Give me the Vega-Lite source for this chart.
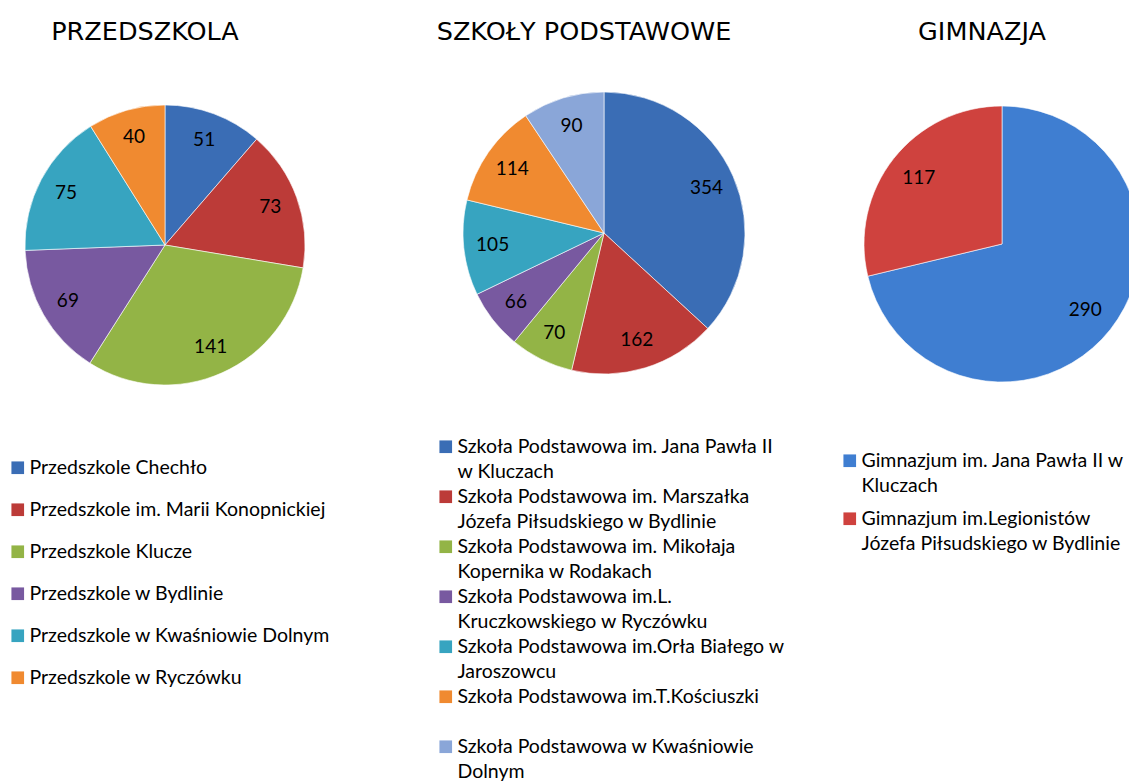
{
  "$schema": "https://vega.github.io/schema/vega-lite/v6.json",
  "padding": {"top": 19, "left": 0, "right": 0, "bottom": 0},
  "background": "white",
  "spacing": 0,
  "bounds": "flush",
  "config": {
    "view": {"stroke": null},
    "title": {"font": "DejaVu Sans", "fontSize": 25.5, "fontWeight": "normal", "color": "#000000", "anchor": "middle", "dx": -20, "offset": 1},
    "legend": {"orient": "none", "direction": "vertical", "symbolType": "square", "symbolSize": 160, "symbolStrokeWidth": 0, "labelFont": "Lato", "labelFontSize": 19.5, "labelColor": "#000000", "labelLimit": 0, "padding": 0, "labelOffset": 2},
    "style": {"guide-label": {"lineHeight": 25.5}}
  },
  "datasets": {
    "przedszkola": [
      {"i": 1, "name": "Przedszkole Chechło", "value": 51},
      {"i": 2, "name": "Przedszkole im. Marii Konopnickiej", "value": 73},
      {"i": 3, "name": "Przedszkole Klucze", "value": 141},
      {"i": 4, "name": "Przedszkole w Bydlinie", "value": 69},
      {"i": 5, "name": "Przedszkole w Kwaśniowie Dolnym", "value": 75},
      {"i": 6, "name": "Przedszkole w Ryczówku", "value": 40}
    ],
    "szkoly": [
      {"i": 1, "name": "Szkoła Podstawowa im. Jana Pawła II w Kluczach", "value": 354},
      {"i": 2, "name": "Szkoła Podstawowa im. Marszałka Józefa Piłsudskiego w Bydlinie", "value": 162},
      {"i": 3, "name": "Szkoła Podstawowa im. Mikołaja Kopernika w Rodakach", "value": 70},
      {"i": 4, "name": "Szkoła Podstawowa im.L. Kruczkowskiego w Ryczówku", "value": 66},
      {"i": 5, "name": "Szkoła Podstawowa im.Orła Białego w Jaroszowcu", "value": 105},
      {"i": 6, "name": "Szkoła Podstawowa im.T.Kościuszki", "value": 114},
      {"i": 7, "name": "Szkoła Podstawowa w Kwaśniowie Dolnym", "value": 90}
    ],
    "gimnazja": [
      {"i": 1, "name": "Gimnazjum im. Jana Pawła II w Kluczach", "value": 290},
      {"i": 2, "name": "Gimnazjum im.Legionistów Józefa Piłsudskiego w Bydlinie", "value": 117}
    ]
  },
  "hconcat": [
    {
      "title": {"text": "PRZEDSZKOLA"},
      "width": 330,
      "height": 398,
      "data": {"name": "przedszkola"},
      "encoding": {
        "theta": {"field": "value", "type": "quantitative", "stack": true},
        "order": {"field": "i", "type": "quantitative"},
        "color": {
          "field": "name", "type": "nominal",
          "scale": {"domain": ["Przedszkole Chechło", "Przedszkole im. Marii Konopnickiej", "Przedszkole Klucze", "Przedszkole w Bydlinie", "Przedszkole w Kwaśniowie Dolnym", "Przedszkole w Ryczówku"],
                    "range": ["#3A6DB5", "#BC3B38", "#93B446", "#7859A0", "#37A4C0", "#F08A30"]},
          "legend": {"title": null, "legendX": 8, "legendY": 412, "rowPadding": 21}
        }
      },
      "layer": [
        {"mark": {"type": "arc", "outerRadius": 140, "stroke": "#ffffff", "strokeOpacity": 0.6, "strokeWidth": 1}},
        {"mark": {"type": "text", "radius": 112, "font": "Lato", "fontSize": 19},
         "encoding": {"text": {"field": "value", "type": "quantitative"}, "detail": {"field": "name"}, "color": {"value": "#000000"}}}
      ]
    },
    {
      "title": {"text": "SZKOŁY PODSTAWOWE"},
      "width": 548,
      "height": 374,
      "data": {"name": "szkoly"},
      "encoding": {
        "theta": {"field": "value", "type": "quantitative", "stack": true},
        "order": {"field": "i", "type": "quantitative"},
        "color": {
          "field": "name", "type": "nominal",
          "scale": {"domain": ["Szkoła Podstawowa im. Jana Pawła II w Kluczach", "Szkoła Podstawowa im. Marszałka Józefa Piłsudskiego w Bydlinie", "Szkoła Podstawowa im. Mikołaja Kopernika w Rodakach", "Szkoła Podstawowa im.L. Kruczkowskiego w Ryczówku", "Szkoła Podstawowa im.Orła Białego w Jaroszowcu", "Szkoła Podstawowa im.T.Kościuszki", "Szkoła Podstawowa w Kwaśniowie Dolnym"],
                    "range": ["#3A6DB5", "#BC3B38", "#93B446", "#7859A0", "#37A4C0", "#F08A30", "#8AA6D8"]},
          "legend": {
            "title": null, "legendX": 106, "legendY": 391, "rowPadding": 4,
            "labelExpr": "datum.label == 'Szkoła Podstawowa im. Jana Pawła II w Kluczach' ? ['Szkoła Podstawowa im. Jana Pawła II', 'w Kluczach'] : datum.label == 'Szkoła Podstawowa im. Marszałka Józefa Piłsudskiego w Bydlinie' ? ['Szkoła Podstawowa im. Marszałka', 'Józefa Piłsudskiego w Bydlinie'] : datum.label == 'Szkoła Podstawowa im. Mikołaja Kopernika w Rodakach' ? ['Szkoła Podstawowa im. Mikołaja', 'Kopernika w Rodakach'] : datum.label == 'Szkoła Podstawowa im.L. Kruczkowskiego w Ryczówku' ? ['Szkoła Podstawowa im.L.', 'Kruczkowskiego w Ryczówku'] : datum.label == 'Szkoła Podstawowa im.Orła Białego w Jaroszowcu' ? ['Szkoła Podstawowa im.Orła Białego w', 'Jaroszowcu'] : datum.label == 'Szkoła Podstawowa im.T.Kościuszki' ? ['Szkoła Podstawowa im.T.Kościuszki', ' '] : ['Szkoła Podstawowa w Kwaśniowie', 'Dolnym']"
          }
        }
      },
      "layer": [
        {"mark": {"type": "arc", "outerRadius": 141, "stroke": "#ffffff", "strokeOpacity": 0.6, "strokeWidth": 1}},
        {"mark": {"type": "text", "radius": 112, "font": "Lato", "fontSize": 19},
         "encoding": {"text": {"field": "value", "type": "quantitative"}, "detail": {"field": "name"}, "color": {"value": "#000000"}}}
      ]
    },
    {
      "title": {"text": "GIMNAZJA"},
      "width": 248,
      "height": 396,
      "data": {"name": "gimnazja"},
      "encoding": {
        "theta": {"field": "value", "type": "quantitative", "stack": true},
        "order": {"field": "i", "type": "quantitative"},
        "color": {
          "field": "name", "type": "nominal",
          "scale": {"domain": ["Gimnazjum im. Jana Pawła II w Kluczach", "Gimnazjum im.Legionistów Józefa Piłsudskiego w Bydlinie"],
                    "range": ["#3F7ED1", "#CF423E"]},
          "legend": {
            "title": null, "legendX": -38, "legendY": 405, "rowPadding": 12,
            "labelExpr": "datum.label == 'Gimnazjum im. Jana Pawła II w Kluczach' ? ['Gimnazjum im. Jana Pawła II w', 'Kluczach'] : ['Gimnazjum im.Legionistów', 'Józefa Piłsudskiego w Bydlinie']"
          }
        }
      },
      "layer": [
        {"mark": {"type": "arc", "outerRadius": 138, "stroke": "#ffffff", "strokeOpacity": 0.6, "strokeWidth": 1}},
        {"mark": {"type": "text", "radius": 106, "font": "Lato", "fontSize": 19},
         "encoding": {"text": {"field": "value", "type": "quantitative"}, "detail": {"field": "name"}, "color": {"value": "#000000"}}}
      ]
    }
  ],
  "resolve": {"scale": {"color": "independent", "theta": "independent"}, "legend": {"color": "independent"}}
}
